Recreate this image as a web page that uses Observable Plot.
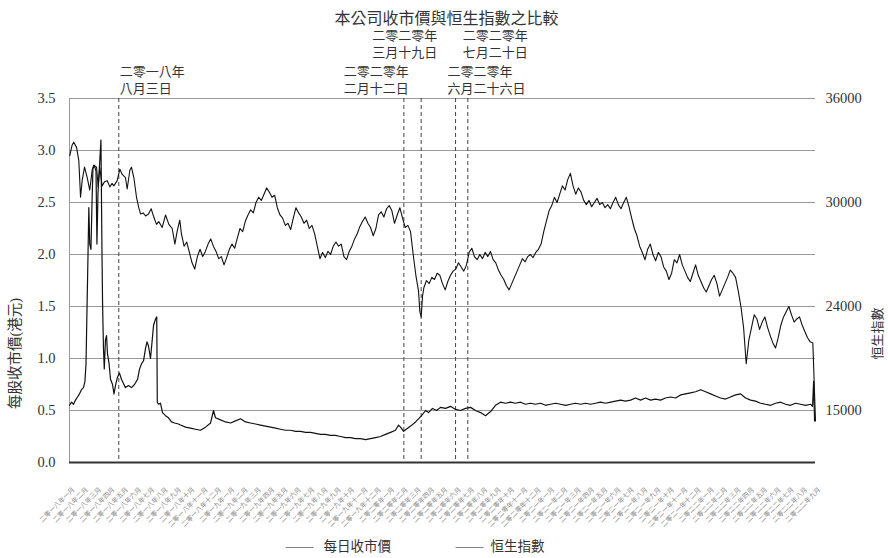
<!DOCTYPE html>
<html><head><meta charset="utf-8">
<script src="https://cdn.jsdelivr.net/npm/d3@7"></script>
<script src="https://cdn.jsdelivr.net/npm/@observablehq/plot@0.6"></script>
<style>
body{margin:0;background:#fff}
#chart svg{font-family:"Liberation Serif","Noto Sans CJK TC",serif;color:#333}
</style>
</head><body><div id="chart"></div>
<script>
// ---- tick labels (x axis: one label per month, 2018-01 .. 2022-09) ----
const yearNames = ["二零一八年","二零一九年","二零二零年","二零二一年","二零二二年"];
const monthNames = ["一月","二月","三月","四月","五月","六月","七月","八月","九月","十月","十一月","十二月"];
const monthCount = 57;
const leftTicks = [0,0.5,1,1.5,2,2.5,3,3.5];
const rightTickPos = [3.5,2.5,1.5,0.5];
const rightTickLabels = ["36000","30000","24000","15000"];
const hsiBase = 15000, hsiPerUnit = 6000; // right axis: 36000 <-> 3.5, 30000 <-> 2.5

// ---- series: [month position, value] ----
const price = [
[0,0.55],[0.15,0.58],[0.30,0.56],[0.45,0.6],[0.60,0.63],[0.75,0.66],[0.90,0.7],[1.05,0.72],[1.16,0.78],[1.24,0.95],[1.31,1.45],[1.39,2.0],[1.45,2.45],[1.52,2.1],[1.61,2.05],[1.69,2.5],[1.76,2.83],[1.88,2.85],[1.99,2.8],[2.06,2.1],[2.14,2.6],[2.25,2.85],[2.36,3.1],[2.44,2.0],[2.48,1.55],[2.55,1.1],[2.61,0.9],[2.70,1.18],[2.78,1.22],[2.85,1.05],[2.97,0.95],[3.08,0.8],[3.23,0.75],[3.34,0.66],[3.45,0.74],[3.60,0.82],[3.75,0.86],[3.90,0.8],[4.05,0.76],[4.20,0.72],[4.43,0.74],[4.65,0.72],[4.88,0.75],[5.11,0.8],[5.26,0.9],[5.41,0.95],[5.56,0.98],[5.71,1.1],[5.82,1.16],[5.93,1.12],[6.08,1.0],[6.19,1.15],[6.31,1.32],[6.46,1.38],[6.55,1.4],[6.59,0.58],[6.68,0.56],[6.83,0.57],[6.98,0.48],[7.21,0.45],[7.43,0.43],[7.66,0.39],[7.88,0.38],[8.18,0.37],[8.33,0.36],[8.71,0.34],[9.08,0.33],[9.46,0.32],[9.83,0.31],[10.21,0.34],[10.59,0.38],[10.81,0.5],[10.96,0.43],[11.34,0.41],[11.71,0.39],[12.09,0.38],[12.46,0.4],[12.84,0.42],[13.21,0.39],[13.59,0.38],[13.96,0.37],[14.34,0.36],[14.71,0.35],[15.09,0.34],[15.47,0.33],[15.84,0.32],[16.22,0.31],[16.59,0.31],[16.97,0.3],[17.34,0.3],[17.72,0.29],[18.09,0.29],[18.47,0.28],[18.84,0.27],[19.22,0.27],[19.59,0.26],[19.97,0.26],[20.35,0.25],[20.72,0.24],[21.10,0.24],[21.47,0.23],[21.85,0.23],[22.22,0.22],[22.60,0.23],[22.97,0.24],[23.35,0.25],[23.72,0.27],[24.10,0.29],[24.47,0.31],[24.70,0.36],[24.85,0.34],[25.08,0.3],[25.38,0.33],[25.60,0.35],[25.98,0.39],[26.20,0.42],[26.43,0.45],[26.73,0.5],[26.95,0.48],[27.25,0.52],[27.55,0.5],[27.85,0.53],[28.23,0.52],[28.60,0.54],[28.98,0.51],[29.35,0.5],[29.73,0.52],[30.11,0.53],[30.48,0.5],[30.86,0.48],[31.23,0.45],[31.61,0.49],[31.98,0.55],[32.36,0.58],[32.73,0.57],[33.11,0.58],[33.48,0.57],[33.86,0.58],[34.23,0.56],[34.61,0.57],[34.98,0.56],[35.36,0.57],[35.74,0.55],[36.11,0.56],[36.49,0.57],[36.86,0.56],[37.24,0.55],[37.61,0.56],[37.99,0.57],[38.36,0.56],[38.74,0.57],[39.11,0.56],[39.49,0.57],[39.86,0.58],[40.24,0.57],[40.62,0.58],[40.99,0.59],[41.37,0.6],[41.74,0.59],[42.12,0.6],[42.49,0.62],[42.87,0.6],[43.24,0.62],[43.62,0.6],[43.99,0.61],[44.37,0.6],[44.74,0.62],[45.12,0.63],[45.50,0.62],[45.87,0.65],[46.25,0.66],[46.62,0.67],[47.00,0.68],[47.37,0.7],[47.75,0.68],[48.12,0.66],[48.50,0.64],[48.87,0.62],[49.25,0.61],[49.62,0.63],[50.00,0.65],[50.38,0.66],[50.75,0.62],[51.13,0.6],[51.50,0.59],[51.88,0.57],[52.25,0.56],[52.63,0.55],[53.00,0.57],[53.38,0.58],[53.75,0.56],[54.13,0.55],[54.50,0.57],[54.88,0.56],[55.26,0.55],[55.63,0.56],[55.78,0.54],[55.86,0.78],[55.93,0.4]
];
const hsi = [
[0.02,32700],[0.19,33300],[0.32,33480],[0.53,33180],[0.70,32400],[0.83,30300],[0.95,31260],[1.13,32040],[1.33,31440],[1.52,30720],[1.70,31860],[1.82,32160],[2.03,32040],[2.15,30900],[2.27,32040],[2.45,30960],[2.63,31200],[2.83,31260],[3.03,30900],[3.19,31100],[3.33,30960],[3.58,31260],[3.78,31920],[3.96,31620],[4.20,31440],[4.33,30780],[4.53,31860],[4.65,32040],[4.83,31440],[5.03,30300],[5.20,29700],[5.33,29340],[5.53,29400],[5.71,29220],[5.93,29340],[6.13,29640],[6.33,29160],[6.53,28740],[6.70,28900],[6.96,28560],[7.21,29280],[7.46,28740],[7.71,28500],[7.91,27600],[8.09,28380],[8.28,28980],
[8.4,28200],[8.6,27480],[8.8,27720],[9.0,27120],[9.2,26520],[9.4,26160],[9.6,26880],[9.8,27300],[10.0,26880],[10.2,27180],[10.4,27600],[10.6,27900],[10.8,27480],[11.0,27180],[11.2,26760],[11.4,26880],[11.6,26400],[11.8,26820],
[12.0,27300],[12.2,27600],[12.4,27360],[12.6,27960],[12.8,28500],[13.0,28320],[13.2,28920],[13.4,29280],[13.6,29580],[13.8,29400],[14.0,30000],[14.2,30300],[14.4,30120],[14.6,30480],[14.8,30840],[15.0,30600],[15.2,30300],[15.4,30420],
[15.6,29700],[15.8,29280],[16.0,29100],[16.2,28680],[16.4,28800],[16.6,28440],[16.8,29100],[17.0,29700],[17.2,29400],[17.4,29160],[17.6,28800],[17.8,28980],[18.0,28500],[18.2,28680],[18.4,28200],[18.6,27480],[18.8,26760],
[19.0,27120],[19.2,26820],[19.4,27180],[19.6,27000],[19.8,27480],[20.0,27720],[20.2,27480],[20.4,27600],[20.6,26880],[20.8,26700],
[21.0,27180],[21.2,27480],[21.4,27900],[21.6,28200],[21.8,28620],[22.0,28920],[22.2,29160],[22.4,28800],[22.6,28560],[22.8,28080],[23.0,28500],[23.2,29280],[23.4,29460],[23.6,29160],[23.8,29640],[24.0,29820],[24.2,29520],
[24.4,28800],[24.6,29280],[24.8,29700],[25.0,29100],[25.2,28560],[25.4,28680],[25.6,28320],[25.8,27000],[26.0,25800],[26.2,24900],[26.3,23700],[26.4,23400],[26.5,24600],[26.6,25080],
[26.8,25500],[27.0,25320],[27.2,25680],[27.4,25560],[27.6,25920],[27.8,25800],[28.0,25320],[28.2,24960],[28.4,25440],[28.6,25800],[28.8,26040],[29.0,26160],[29.2,26520],[29.4,26280],[29.6,26040],[29.8,26400],[30.0,27120],[30.2,27360],
[30.4,26880],[30.6,26700],[30.8,27000],[31.0,26760],[31.2,27120],[31.4,26880],[31.6,27180],[31.8,26700],[32.0,26520],[32.2,26100],
[32.4,25800],[32.6,25560],[32.8,25200],[33.0,24960],[33.2,25320],[33.4,25680],[33.6,26040],[33.8,26400],[34.0,26760],[34.2,26580],[34.4,26880],[34.6,27000],[34.8,26820],[35.0,27120],[35.2,27300],
[35.4,27600],[35.6,28320],[35.8,28920],[36.0,29520],[36.2,29820],[36.4,30300],[36.6,30000],[36.8,30480],[37.0,30960],[37.2,30720],[37.4,31320],[37.6,31680],
[37.8,30960],[38.0,30480],[38.2,30840],[38.4,30600],[38.6,30120],[38.8,29880],[39.0,30120],[39.2,29760],[39.4,30000],[39.6,30240],[39.8,29880],[40.0,30000],[40.2,29700],[40.4,29880],[40.6,29640],[40.8,30000],[41.0,30300],[41.2,29880],[41.4,29640],[41.6,30000],[41.8,30300],[42.0,29760],
[42.2,29100],[42.4,28500],[42.6,28080],[42.8,27480],[43.0,27120],[43.2,26700],[43.4,27300],[43.6,27600],[43.8,27000],[44.0,26640],[44.2,27120],[44.4,26880],
[44.6,26280],[44.8,26040],[45.0,25560],[45.2,25920],[45.4,26700],[45.6,26520],[45.8,27000],[46.0,26400],[46.2,26040],[46.4,25680],[46.6,25440],[46.8,25920],[47.0,26400],[47.2,25800],[47.4,25440],
[47.6,25080],[47.8,24840],[48.0,25200],[48.2,25560],[48.4,25800],[48.6,25320],[48.8,24600],[49.0,24960],[49.2,25320],[49.4,25680],[49.6,26100],[49.8,25920],[50.0,25680],[50.2,24900],[50.4,24000],
[50.6,22800],[50.8,20700],[51.0,22080],[51.2,22800],[51.4,23520],[51.6,23280],[51.8,22680],[52.0,23100],[52.2,23400],[52.4,22800],[52.6,22320],[52.8,21900],[53.0,21600],[53.2,22200],[53.4,22920],[53.6,23400],[53.8,23700],[54.0,24000],[54.2,23520],[54.4,23100],[54.6,23280],[54.8,23400],[55.0,22920],[55.2,22560],[55.4,22200],[55.6,21960],[55.8,21900],[56.0,17400]
];

// ---- reference dates (dashed lines) ----
const events = [
  {pos: 3.70, l1: "二零一八年", l2: "八月三日", row: "low", side: "start", shift: 1},
  {pos: 25.10, l1: "二零二零年", l2: "二月十二日", row: "low", side: "end", shift: 5},
  {pos: 26.40, l1: "二零二零年", l2: "三月十九日", row: "high", side: "end", shift: 16},
  {pos: 28.98, l1: "二零二零年", l2: "六月二十六日", row: "low", side: "start", shift: -8},
  {pos: 29.90, l1: "二零二零年", l2: "七月二十日", row: "high", side: "start", shift: -5}
];
const titleText = "本公司收市價與恒生指數之比較";
const leftTitle = "每股收市價(港元)";
const rightTitle = "恒生指數";
const legendNames = ["每日收市價","恒生指數"];

const monthLabels = [];
for (const y of yearNames) for (const m of monthNames) monthLabels.push(y + m);
const xTicks = d3.range(monthCount);
const rightMap = new Map(rightTickPos.map((p, i) => [p, rightTickLabels[i]]));
const toLeft = h => (h - hsiBase) / hsiPerUnit;

const eventMarks = events.map(e =>
  Plot.text([e], {x: "pos", text: d => d.l1 + "\n" + d.l2, frameAnchor: "top",
    dy: e.row === "low" ? -19 : -55, dx: e.shift, textAnchor: e.side, lineAnchor: "middle",
    lineHeight: 1.3, fontSize: 13, fill: "#333"})
);

const chart = Plot.plot({
  width: 888, height: 558,
  marginLeft: 69, marginRight: 73, marginTop: 98, marginBottom: 96,
  x: {domain: [0, monthCount - 1], axis: null},
  y: {domain: [0, 3.5], axis: null},
  marks: [
    Plot.gridY(leftTicks.filter(d => d > 0), {stroke: "#9a9a9a", strokeOpacity: 1, strokeWidth: 1}),
    Plot.frame({anchor: "left", stroke: "#9a9a9a"}),
    Plot.ruleX(events, {x: "pos", stroke: "#444", strokeWidth: 1, strokeDasharray: "4,3"}),
    Plot.line(hsi, {x: d => d[0], y: d => toLeft(d[1]), stroke: "#111", strokeWidth: 1.1}),
    Plot.line(price, {x: d => d[0], y: d => d[1], stroke: "#111", strokeWidth: 1.2}),
    Plot.ruleY([0], {stroke: "#333", strokeWidth: 2}),
    Plot.axisY(leftTicks, {anchor: "left", tickSize: 0, tickPadding: 14, tickFormat: d3.format(".1f"), fontSize: 14.5, fill: "#333", label: null}),
    Plot.axisY(rightTickPos, {anchor: "right", tickSize: 0, tickPadding: 10, tickFormat: d => rightMap.get(d), fontSize: 14.5, fill: "#333", label: null}),
    Plot.axisX(xTicks, {anchor: "bottom", tickSize: 0, tickPadding: 14, tickRotate: -45, tickFormat: i => monthLabels[i], fontSize: 6.6, fill: "#8a8a8a", dx: 4, dy: 12, label: null}),
    Plot.text([titleText], {frameAnchor: "top", dy: -86, dx: 4, fontSize: 16, fill: "#333"}),
    Plot.text([leftTitle], {frameAnchor: "left", textAnchor: "middle", dx: -54, dy: 73, rotate: -90, fontSize: 14.5, fill: "#333"}),
    Plot.text([rightTitle], {frameAnchor: "right", textAnchor: "middle", dx: 62, dy: 53, rotate: -90, fontSize: 13, fill: "#333"}),
    Plot.text(["——"], {frameAnchor: "bottom", dx: -157, dy: 88, textAnchor: "start", fontSize: 14, fill: "#111"}),
    Plot.text([legendNames[0]], {frameAnchor: "bottom", dx: -119, dy: 88, textAnchor: "start", fontSize: 13.5, fill: "#333"}),
    Plot.text(["——"], {frameAnchor: "bottom", dx: 13, dy: 88, textAnchor: "start", fontSize: 14, fill: "#111"}),
    Plot.text([legendNames[1]], {frameAnchor: "bottom", dx: 48, dy: 88, textAnchor: "start", fontSize: 13.5, fill: "#333"}),
    ...eventMarks
  ]
});
document.getElementById("chart").append(chart);
</script>
</body></html>
